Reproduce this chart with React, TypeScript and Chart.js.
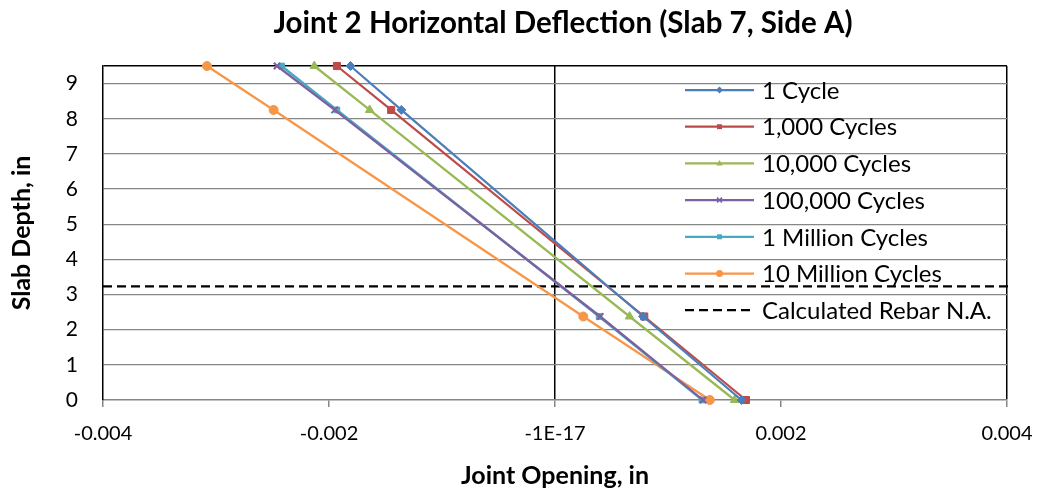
import React, { useEffect, useRef } from 'react';
import { Chart, registerables } from 'chart.js';

Chart.register(...registerables);

const chartTitle = 'Joint 2 Horizontal Deflection (Slab 7, Side A)';
const xTitle = 'Joint Opening, in';
const yTitle = 'Slab Depth, in';

const depths = [9.5, 8.25, 2.375, 0];
const seriesLabels = ['1 Cycle', '1,000 Cycles', '10,000 Cycles', '100,000 Cycles', '1 Million Cycles', '10 Million Cycles'];
const cycles1 = [-0.00181, -0.00136, 0.00078, 0.00165];
const cycles1k = [-0.00193, -0.00145, 0.00079, 0.00169];
const cycles10k = [-0.00213, -0.00164, 0.00066, 0.00159];
const cycles100k = [-0.00246, -0.00195, 0.0004, 0.00131];
const cycles1M = [-0.00242, -0.00193, 0.00039, 0.0013];
const cycles10M = [-0.00308, -0.00249, 0.00025, 0.00137];

const naLabel = 'Calculated Rebar N.A.';
const naDepth = 3.23;
const naX = [-0.004, 0.00403];

const xTickValues = [-0.004, -0.002, 0, 0.002, 0.004];
const xTickLabels = ['-0.004', '-0.002', '-1E-17', '0.002', '0.004'];
const yTickValues = [0, 1, 2, 3, 4, 5, 6, 7, 8, 9];
const yMax = 9.5;

const seriesColors = ['#4A7EBB', '#BE4B48', '#98B954', '#7D60A0', '#46AAC5', '#F79646'];
const seriesMarkers = ['rectRot', 'rect', 'triangle', 'crossRot', 'rect', 'circle'];
const seriesRadius = [4.5, 5, 5, 4.5, 4, 4.5];

const FONT = 'Lato';

function drawMarker(ctx: CanvasRenderingContext2D, style: string, x: number, y: number, r: number, color: string) {
  ctx.save();
  ctx.fillStyle = color;
  ctx.strokeStyle = color;
  ctx.lineWidth = 1.5;
  ctx.beginPath();
  if (style === 'rectRot') {
    ctx.moveTo(x, y - r);
    ctx.lineTo(x + r, y);
    ctx.lineTo(x, y + r);
    ctx.lineTo(x - r, y);
    ctx.closePath();
    ctx.fill();
  } else if (style === 'rect') {
    const s = r * Math.SQRT1_2;
    ctx.rect(x - s, y - s, 2 * s, 2 * s);
    ctx.fill();
  } else if (style === 'triangle') {
    ctx.moveTo(x, y - r);
    ctx.lineTo(x + r * 0.9, y + r * 0.6);
    ctx.lineTo(x - r * 0.9, y + r * 0.6);
    ctx.closePath();
    ctx.fill();
  } else if (style === 'crossRot') {
    const s = r * Math.SQRT1_2;
    ctx.moveTo(x - s, y - s);
    ctx.lineTo(x + s, y + s);
    ctx.moveTo(x + s, y - s);
    ctx.lineTo(x - s, y + s);
    ctx.stroke();
  } else if (style === 'circle') {
    ctx.arc(x, y, r, 0, Math.PI * 2);
    ctx.fill();
  }
  ctx.restore();
}

const titlePlugin = {
  id: 'excelTitle',
  afterDraw(chart: any) {
    const { ctx, chartArea } = chart;
    ctx.save();
    ctx.font = `bold 29.5px ${FONT}`;
    ctx.fillStyle = '#000';
    ctx.textAlign = 'center';
    ctx.textBaseline = 'middle';
    ctx.fillText(chartTitle, (chartArea.left + chartArea.right) / 2 + 8, 23);
    ctx.restore();
  },
};

const insideLegend = {
  id: 'insideLegend',
  afterDraw(chart: any) {
    const { ctx, chartArea } = chart;
    const left = chartArea.right - 322;
    const lineLen = 69;
    const top = chartArea.top + 24;
    const rowH = 36.7;
    ctx.save();
    ctx.font = `24px ${FONT}`;
    ctx.textBaseline = 'middle';
    ctx.textAlign = 'left';
    chart.data.datasets.forEach((ds: any, i: number) => {
      const y = top + i * rowH;
      ctx.save();
      ctx.strokeStyle = ds.borderColor;
      ctx.lineWidth = ds.borderWidth;
      ctx.setLineDash(ds.borderDash || []);
      ctx.beginPath();
      ctx.moveTo(left, y);
      ctx.lineTo(left + lineLen, y);
      ctx.stroke();
      ctx.restore();
      if (ds.pointRadius > 0) {
        drawMarker(ctx, ds.pointStyle, left + lineLen / 2, y, 3.5, ds.borderColor);
      }
      ctx.fillStyle = '#000';
      ctx.fillText(ds.label, left + lineLen + 8, y + 1);
    });
    ctx.restore();
  },
};

export default function App() {
  const canvasRef = useRef<HTMLCanvasElement | null>(null);

  useEffect(() => {
    document.body.style.margin = '0';
    const canvas = canvasRef.current;
    if (!canvas) return;

    const seriesValues = [cycles1, cycles1k, cycles10k, cycles100k, cycles1M, cycles10M];
    const datasets: any[] = seriesValues.map((vals, i) => ({
      label: seriesLabels[i],
      data: vals.map((v, j) => ({ x: v, y: depths[j] })),
      borderColor: seriesColors[i],
      backgroundColor: seriesColors[i],
      borderWidth: 2.25,
      pointStyle: seriesMarkers[i],
      pointRadius: seriesRadius[i],
      pointBorderWidth: seriesMarkers[i] === 'crossRot' ? 2 : 1,
      showLine: true,
      clip: false,
    }));
    datasets.push({
      label: naLabel,
      data: naX.map((v) => ({ x: v, y: naDepth })),
      borderColor: '#000',
      backgroundColor: '#000',
      borderWidth: 2.25,
      borderDash: [9, 5],
      pointRadius: 0,
      showLine: true,
      clip: false,
    });

    const chart = new Chart(canvas, {
      type: 'scatter',
      data: { datasets },
      plugins: [titlePlugin, insideLegend],
      options: {
        animation: false,
        responsive: false,
        maintainAspectRatio: false,
        layout: { padding: { top: 66, right: 33, bottom: 0, left: 0 } },
        plugins: {
          legend: { display: false },
          tooltip: { enabled: false },
          title: { display: false },
        },
        scales: {
          x: {
            type: 'linear',
            min: -0.004,
            max: 0.004,
            afterBuildTicks: (scale: any) => {
              scale.ticks = xTickValues.map((v) => ({ value: v }));
            },
            afterFit: (scale: any) => {
              scale.height = 91;
              scale.paddingLeft = 0;
              scale.paddingRight = 0;
            },
            ticks: {
              color: '#000',
              font: { family: FONT, size: 20 },
              padding: 15,
              maxRotation: 0,
              callback: (_v: any, idx: number) => xTickLabels[idx],
            },
            grid: {
              color: (c: any) => (c.tick && (c.tick.value === 0 || c.tick.value === 0.004) ? '#000' : 'rgba(0,0,0,0)'),
              tickColor: '#868686',
              tickLength: 7,
              lineWidth: 1.5,
            },
            border: { color: '#868686', width: 1.5 },
            title: {
              display: true,
              text: xTitle,
              color: '#000',
              font: { family: FONT, size: 25, weight: 'bold' },
              padding: { top: 0, bottom: 0 },
            },
          },
          y: {
            type: 'linear',
            min: 0,
            max: yMax,
            afterBuildTicks: (scale: any) => {
              scale.ticks = [...yTickValues, yMax].map((v) => ({ value: v }));
            },
            afterFit: (scale: any) => {
              scale.width = 103;
              scale.paddingTop = 0;
              scale.paddingBottom = 0;
            },
            ticks: {
              color: '#000',
              font: { family: FONT, size: 21 },
              padding: 25,
              callback: (v: any) => (yTickValues.includes(v) ? String(v) : ''),
            },
            grid: {
              drawTicks: false,
              color: (c: any) => (c.tick && c.tick.value === yMax ? '#000' : c.tick && c.tick.value === 0 ? 'rgba(0,0,0,0)' : '#868686'),
              lineWidth: (c: any) => (c.tick && c.tick.value === yMax ? 1.5 : 1.2),
            },
            border: { color: '#000', width: 1.5 },
            title: {
              display: true,
              text: yTitle,
              color: '#000',
              font: { family: FONT, size: 25, weight: 'bold' },
              padding: { top: 7, bottom: 0 },
            },
          },
        },
      } as any,
    });

    return () => {
      chart.destroy();
    };
  }, []);

  return (
    <div style={{ width: 1040, height: 491 }}>
      <canvas ref={canvasRef} width={1040} height={491} style={{ display: 'block', width: 1040, height: 491 }} />
    </div>
  );
}
